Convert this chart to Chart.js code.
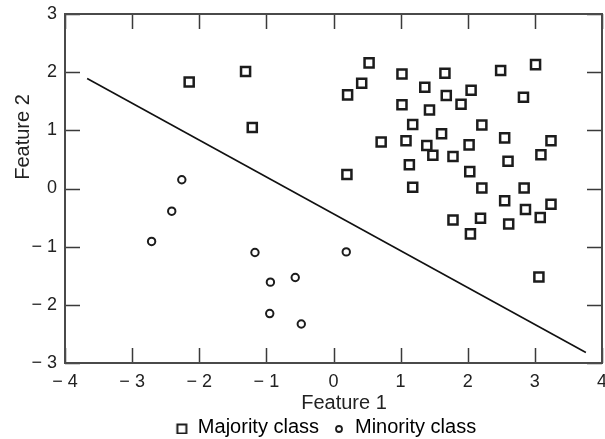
<!DOCTYPE html>
<html>
<head>
<meta charset="utf-8">
<script src="https://cdn.jsdelivr.net/npm/chart.js@4/dist/chart.umd.min.js"></script>
<style>
	html, body { margin: 0; padding: 0; background: #fff; }
	#wrap { width: 605px; height: 439px; }
</style>
</head>
<body>
<div id="wrap"><canvas id="chart" width="605" height="439"></canvas></div>
<script>
// points
const majorityX = [-2.15, -1.31, -1.21, 0.2, 0.21, 0.42, 0.53, 0.71, 1.02, 1.66, 2.49, 3.01, 1.36, 1.68, 2.05,
	1.02, 1.43, 1.9, 2.83, 1.18, 2.21, 1.08, 1.61, 1.39, 2.02, 2.55, 3.24, 1.48, 1.78, 3.09, 2.6, 1.13, 2.03,
	1.18, 2.21, 2.84, 2.55, 3.24, 2.86, 3.08, 1.78, 2.19, 2.61, 2.04, 3.06]
const majorityY = [1.83, 2.01, 1.05, 0.24, 1.61, 1.81, 2.16, 0.8, 1.97, 1.98, 2.03, 2.13, 1.74, 1.6, 1.69,
	1.44, 1.35, 1.45, 1.57, 1.1, 1.09, 0.82, 0.94, 0.74, 0.75, 0.87, 0.82, 0.57, 0.55, 0.58, 0.47, 0.41, 0.29,
	0.02, 0.01, 0.01, -0.21, -0.27, -0.36, -0.5, -0.54, -0.51, -0.61, -0.78, -1.52]
const minorityX = [-2.26, -2.41, -2.71, -1.17, -0.94, -0.95, -0.57, -0.48, 0.19]
const minorityY = [0.15, -0.39, -0.91, -1.1, -1.61, -2.15, -1.53, -2.33, -1.09]
const boundaryX = [-3.67, 3.76]
const boundaryY = [1.89, -2.82]

const xTicks = [-4, -3, -2, -1, 0, 1, 2, 3, 4]
const yTicks = [-3, -2, -1, 0, 1, 2, 3]
const seriesNames = ['Majority class', 'Minority class']

const ink = '#1c1c1c'
const plotRight = 602
const toPoints = (xs, ys) => xs.map((x, i) => ({ x: x, y: ys[i] }))
const fmt = (v) => (v < 0 ? '\u2212 ' + Math.abs(v) : String(v))

Chart.defaults.font.family = '"Liberation Sans", Arial, sans-serif'
Chart.defaults.color = '#222'

// little marker canvases for the legend
function legendIcon(kind) {
	let c = document.createElement('canvas')
	c.width = 14
	c.height = 14
	let g = c.getContext('2d')
	g.strokeStyle = ink
	if (kind === 'rect') {
		g.lineWidth = 2
		g.strokeRect(2.5, 4.5, 9, 9)
	} else {
		g.lineWidth = 1.8
		g.beginPath()
		g.arc(7, 9, 3, 0, Math.PI * 2)
		g.stroke()
	}
	return c
}

const frame = {
	id: 'frame',
	afterLayout(chart) {
		// the figure lets the last x label run off the edge, so stretch the plot back out
		let area = chart.chartArea
		area.right = plotRight
		area.width = area.right - area.left
		let x = chart.scales.x
		x.right = plotRight
		x.width = x.right - x.left
		x.configure()

		// legend sits a bit right of canvas centre in the figure
		let lg = chart.legend
		lg.left += 25
		lg.right += 25
		lg.top = 427 - lg.options.labels.padding - 10
	},
	afterDatasetsDraw(chart) {
		let { ctx, chartArea: a, scales } = chart
		ctx.save()
		ctx.strokeStyle = '#3a3a3a'
		ctx.lineWidth = 1.5
		ctx.beginPath()
		xTicks.forEach((v) => {
			let px = Math.round(scales.x.getPixelForValue(v)) + 0.5
			ctx.moveTo(px, a.bottom)
			ctx.lineTo(px, a.bottom - 15)
			ctx.moveTo(px, a.top)
			ctx.lineTo(px, a.top + 15)
		})
		yTicks.forEach((v) => {
			let py = Math.round(scales.y.getPixelForValue(v)) + 0.5
			ctx.moveTo(a.left, py)
			ctx.lineTo(a.left + 15, py)
			ctx.moveTo(a.right, py)
			ctx.lineTo(a.right - 15, py)
		})
		ctx.stroke()
		ctx.strokeStyle = '#4a4a4a'
		ctx.lineWidth = 2
		ctx.strokeRect(a.left, a.top, a.right - a.left, a.bottom - a.top)

		// axis titles
		ctx.fillStyle = '#222'
		ctx.font = '20px "Liberation Sans", Arial, sans-serif'
		ctx.textAlign = 'center'
		ctx.textBaseline = 'middle'
		ctx.fillText('Feature 1', 344, 403)
		ctx.translate(23, 137)
		ctx.rotate(-Math.PI / 2)
		ctx.fillText('Feature 2', 0, 0)
		ctx.restore()
	},
}

new Chart(document.getElementById('chart'), {
	type: 'scatter',
	data: {
		datasets: [
			{
				label: seriesNames[0],
				data: toPoints(majorityX, majorityY),
				pointStyle: 'rect',
				pointRadius: 6.4,
				borderWidth: 2.5,
				borderColor: ink,
				backgroundColor: '#fff',
			},
			{
				label: seriesNames[1],
				data: toPoints(minorityX, minorityY),
				pointStyle: 'circle',
				pointRadius: 3.7,
				borderWidth: 2,
				borderColor: ink,
				backgroundColor: '#fff',
			},
			{
				label: 'boundary',
				data: toPoints(boundaryX, boundaryY),
				showLine: true,
				pointRadius: 0,
				borderColor: '#111',
				borderWidth: 1.6,
			},
		],
	},
	options: {
		responsive: false,
		animation: false,
		layout: { padding: { left: 0, right: 3, top: 14, bottom: 0 } },
		scales: {
			x: {
				type: 'linear',
				min: -4,
				max: 4,
				afterBuildTicks: (s) => {
					s.ticks = xTicks.map((v) => ({ value: v }))
				},
				afterFit: (s) => {
					s.height = 32
					s.paddingLeft = 0
					s.paddingRight = 0
				},
				grid: { display: false, drawTicks: false },
				border: { display: false },
				ticks: {
					padding: 8,
					maxRotation: 0,
					font: { size: 18 },
					callback: fmt,
				},
			},
			y: {
				type: 'linear',
				min: -3,
				max: 3,
				afterBuildTicks: (s) => {
					s.ticks = yTicks.map((v) => ({ value: v }))
				},
				afterFit: (s) => {
					s.width = 65
					s.paddingTop = 0
					s.paddingBottom = 0
				},
				grid: { display: false, drawTicks: false },
				border: { display: false },
				ticks: {
					padding: 8,
					font: { size: 18 },
					callback: fmt,
				},
			},
		},
		plugins: {
			tooltip: { enabled: false },
			legend: {
				position: 'bottom',
				labels: {
					usePointStyle: true,
					boxWidth: 12,
					boxHeight: 12,
					padding: 14,
					color: '#222',
					font: { size: 20 },
					generateLabels: () => [
						{ text: seriesNames[0], pointStyle: legendIcon('rect'), datasetIndex: 0, lineWidth: 0 },
						{ text: seriesNames[1], pointStyle: legendIcon('circle'), datasetIndex: 1, lineWidth: 0 },
					],
				},
			},
		},
	},
	plugins: [frame],
})
</script>
</body>
</html>
